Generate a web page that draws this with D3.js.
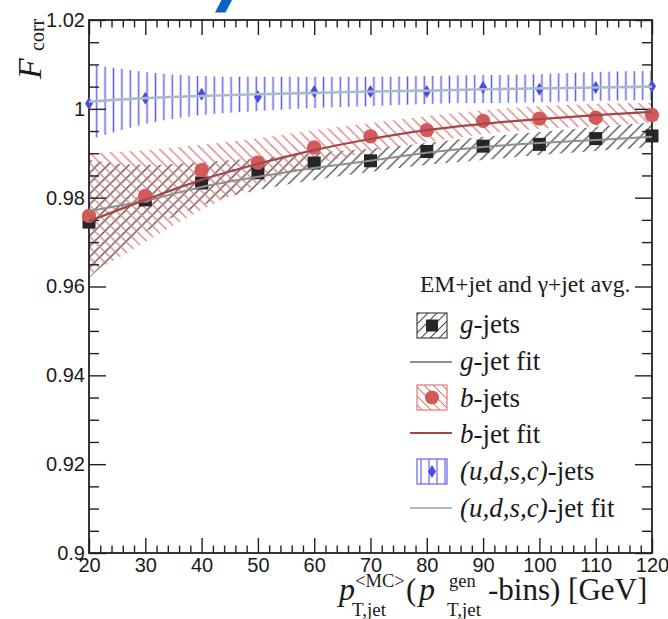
<!DOCTYPE html>
<html><head><meta charset="utf-8">
<script src="https://cdn.jsdelivr.net/npm/d3@7"></script>
<style>body{margin:0;background:#fff} svg{display:block}</style>
</head><body>
<svg id="chart" width="668" height="619"></svg>
<script>
// ---------------- data ----------------
const ptBins = [20,30,40,50,60,70,80,90,100,110,120];
const gJets   = [0.9745,0.9795,0.9833,0.9856,0.9878,0.9883,0.9904,0.9916,0.9920,0.9933,0.9939];
const gFit    = [0.9770,0.9793,0.9824,0.9847,0.9867,0.9883,0.9901,0.9914,0.9923,0.9930,0.9937];
const gUpper  = [0.9885,0.9874,0.9880,0.9889,0.9901,0.9910,0.9923,0.9937,0.9948,0.9959,0.9970];
const gLower  = [0.9619,0.9723,0.9783,0.9817,0.9840,0.9858,0.9874,0.9885,0.9896,0.9905,0.9914];
const bJets   = [0.9759,0.9804,0.9862,0.9879,0.9913,0.9938,0.9952,0.9973,0.9978,0.9980,0.9986];
const bFit    = [0.9747,0.9795,0.9840,0.9876,0.9907,0.9932,0.9952,0.9966,0.9977,0.9986,0.9993];
const bUpper  = [0.9901,0.9907,0.9919,0.9934,0.9952,0.9968,0.9984,0.9997,1.0006,1.0011,1.0013];
const bLower  = [0.9626,0.9700,0.9772,0.9829,0.9874,0.9903,0.9925,0.9943,0.9955,0.9961,0.9968];
const qJets   = [1.0012,1.0024,1.0033,1.0027,1.0039,1.0039,1.0039,1.0048,1.0044,1.0048,1.0051];
const qFit    = [1.0016,1.0024,1.0029,1.0033,1.0036,1.0039,1.0041,1.0044,1.0046,1.0048,1.0050];
const qUpper  = [1.0101,1.0083,1.0074,1.0072,1.0072,1.0072,1.0074,1.0076,1.0078,1.0083,1.0085];
const qLower  = [0.9930,0.9966,0.9986,0.9995,1.0002,1.0006,1.0011,1.0013,1.0015,1.0018,1.0020];

const xMajorTicks = [20,30,40,50,60,70,80,90,100,110,120];
const yMajorTicks = [0.9,0.92,0.94,0.96,0.98,1.0,1.02];
const yTickLabels = ["0.9","0.92","0.94","0.96","0.98","1","1.02"];
const legendHeader = "EM+jet and \u03b3+jet avg.";

// ---------------- layout ----------------
const svg = d3.select("#chart");
const L = 89, R = 652, T = 20, B = 553;
const x = d3.scaleLinear().domain([20,120]).range([L,R]);
const y = d3.scaleLinear().domain([0.9,1.02]).range([B,T]);
const SANS = "'Liberation Sans', Arial, Helvetica, sans-serif";
const SERIF = "'Liberation Serif', 'Times New Roman', serif";

const defs = svg.append("defs");
defs.append("clipPath").attr("id","plotclip").append("rect")
  .attr("x",L).attr("y",T).attr("width",R-L).attr("height",B-T);

function hatch(id, d, color, w, sw, sh, px){
  const p = defs.append("pattern").attr("id",id).attr("patternUnits","userSpaceOnUse")
    .attr("width",sw).attr("height",sh).attr("x",px||0).attr("y",0);
  p.append("path").attr("d",d).attr("stroke",color).attr("stroke-width",w).attr("fill","none");
}
const s = 10.5;
hatch("hatchG", `M0,${s} L${s},0 M${-s/2},${s/2} L${s/2},${-s/2} M${s/2},${s*1.5} L${s*1.5},${s/2}`, "#4a4a4a", 1.3, s, s);
hatch("hatchB", `M0,0 L${s},${s} M${-s/2},${s/2} L${s/2},${s*1.5} M${s/2},${-s/2} L${s*1.5},${s/2}`, "#e27878", 1.3, s, s);
hatch("hatchQ", `M4.2,-1 V11`, "#6262ee", 1.5, 8.4, 10, 92.5);
// legend patterns (finer)
const s2 = 9;
hatch("hatchGL", `M0,${s2} L${s2},0 M${-s2/2},${s2/2} L${s2/2},${-s2/2} M${s2/2},${s2*1.5} L${s2*1.5},${s2/2}`, "#4a4a4a", 1.1, s2, s2, 417);
hatch("hatchBL", `M0,0 L${s2},${s2} M${-s2/2},${s2/2} L${s2/2},${s2*1.5} M${s2/2},${-s2/2} L${s2*1.5},${s2/2}`, "#e27878", 1.1, s2, s2, 417);
hatch("hatchQL", `M4,-1 V11`, "#6262ee", 1.2, 8, 10, 417);

// blue fragment at the top
svg.append("path").attr("d","M215,12.5 L225.5,12.5 L232,0 L221.5,0 Z").attr("fill","#0b63c8");

const plot = svg.append("g").attr("clip-path","url(#plotclip)");

function band(lo, hi, fill){
  const area = d3.area().x((d,i)=>x(ptBins[i])).y0((d,i)=>y(lo[i])).y1((d,i)=>y(hi[i]))
    .curve(d3.curveMonotoneX);
  plot.append("path").attr("d", area(ptBins)).attr("fill", fill);
}
band(qLower, qUpper, "url(#hatchQ)");
band(gLower, gUpper, "url(#hatchG)");
band(bLower, bUpper, "url(#hatchB)");

// ---------------- axes ----------------
const xMinor = d3.range(20,121,2).filter(v=>v%10!==0);
const yMinor = d3.range(0,25).map(i=>+(0.9+i*0.005).toFixed(3)).filter(v=>!yMajorTicks.some(m=>Math.abs(m-v)<1e-9));

function styleAxis(g){
  g.select(".domain").remove();
  g.selectAll("line").attr("stroke","#222").attr("stroke-width",1.4);
  g.selectAll("text").attr("font-family",SANS).attr("font-size",20).attr("fill","#1a1a1a");
}
svg.append("g").attr("transform",`translate(0,${B})`)
  .call(d3.axisBottom(x).tickValues(xMajorTicks).tickSize(-15).tickPadding(5).tickFormat(d3.format("d"))).call(styleAxis);
svg.append("g").attr("transform",`translate(0,${B})`)
  .call(d3.axisBottom(x).tickValues(xMinor).tickSize(-7.5).tickFormat("")).call(styleAxis);
svg.append("g").attr("transform",`translate(0,${T})`)
  .call(d3.axisTop(x).tickValues(xMajorTicks).tickSize(-15).tickFormat("")).call(styleAxis);
svg.append("g").attr("transform",`translate(0,${T})`)
  .call(d3.axisTop(x).tickValues(xMinor).tickSize(-7.5).tickFormat("")).call(styleAxis);
svg.append("g").attr("transform",`translate(${L},0)`)
  .call(d3.axisLeft(y).tickValues(yMajorTicks).tickSize(-17).tickPadding(4)
    .tickFormat((d,i)=>yTickLabels[i])).call(styleAxis);
svg.append("g").attr("transform",`translate(${L},0)`)
  .call(d3.axisLeft(y).tickValues(yMinor).tickSize(-10).tickFormat("")).call(styleAxis);
svg.append("g").attr("transform",`translate(${R},0)`)
  .call(d3.axisRight(y).tickValues(yMajorTicks).tickSize(-17).tickFormat("")).call(styleAxis);
svg.append("g").attr("transform",`translate(${R},0)`)
  .call(d3.axisRight(y).tickValues(yMinor).tickSize(-10).tickFormat("")).call(styleAxis);

svg.append("rect").attr("x",L).attr("y",T).attr("width",R-L).attr("height",B-T)
  .attr("fill","none").attr("stroke","#222").attr("stroke-width",1.8);

// ---------------- markers & fits (not clipped, drawn over the frame) ----------------
const marks = svg.append("g");
marks.selectAll(".sq").data(gJets).enter().append("rect")
  .attr("x",(d,i)=>x(ptBins[i])-6.5).attr("y",d=>y(d)-6.5)
  .attr("width",13).attr("height",13).attr("fill","#262626");
marks.selectAll(".ci").data(bJets).enter().append("circle")
  .attr("cx",(d,i)=>x(ptBins[i])).attr("cy",d=>y(d)).attr("r",7.2).attr("fill","#d25a5a");
const diamond = (cx,cy)=>`M${cx},${cy-6.5} L${cx+4},${cy} L${cx},${cy+6.5} L${cx-4},${cy} Z`;
marks.selectAll(".di").data(qJets).enter().append("path")
  .attr("d",(d,i)=>diamond(x(ptBins[i]), y(d))).attr("fill","#4b4be0");

function fit(vals, color, w){
  const line = d3.line().x((d,i)=>x(ptBins[i])).y(d=>y(d)).curve(d3.curveMonotoneX);
  marks.append("path").attr("d", line(vals)).attr("fill","none").attr("stroke",color).attr("stroke-width",w);
}
fit(gFit, "#8e8e8e", 2);
fit(bFit, "#a34848", 2.2);
fit(qFit, "#a9bcc6", 2.6);

// ---------------- axis titles ----------------
const xt = svg.append("g").attr("font-family",SERIF).attr("fill","#1a1a1a");
xt.append("text").attr("x",339).attr("y",600).attr("font-size",32).attr("font-style","italic").text("p");
xt.append("text").attr("x",355).attr("y",587).attr("font-size",18.5).text("<MC>");
xt.append("text").attr("x",352).attr("y",616).attr("font-size",19).text("T,jet");
xt.append("text").attr("x",406).attr("y",600).attr("font-size",31).text("(");
xt.append("text").attr("x",419).attr("y",600).attr("font-size",32).attr("font-style","italic").text("p");
xt.append("text").attr("x",449).attr("y",587).attr("font-size",18.5).text("gen");
xt.append("text").attr("x",447).attr("y",616).attr("font-size",19).text("T,jet");
xt.append("text").attr("x",488).attr("y",600).attr("font-size",31).text("-bins) [GeV]");

const yt = svg.append("g").attr("font-family",SERIF).attr("fill","#1a1a1a");
yt.append("text").attr("transform","translate(41,79) rotate(-90)").attr("font-size",34).attr("font-style","italic").text("F");
yt.append("text").attr("transform","translate(44,51) rotate(-90)").attr("font-size",20).text("corr");

// ---------------- legend ----------------
const lg = svg.append("g").attr("font-family",SERIF).attr("fill","#1a1a1a");
lg.append("text").attr("x",420).attr("y",292).attr("font-size",23.5).text(legendHeader);

function legText(yb, parts){
  const t = lg.append("text").attr("x",460).attr("y",yb).attr("font-size",27);
  parts.forEach(p=>t.append("tspan").attr("font-style",p[1]?"italic":"normal").text(p[0]));
}
// g-jets
lg.append("rect").attr("x",417).attr("y",313).attr("width",30).attr("height",25)
  .attr("fill","url(#hatchGL)").attr("stroke","#444").attr("stroke-width",1.2);
lg.append("rect").attr("x",426).attr("y",319.5).attr("width",12).attr("height",12).attr("fill","#262626");
legText(333, [["g",1],["-jets",0]]);
lg.append("line").attr("x1",410).attr("x2",452).attr("y1",362).attr("y2",362).attr("stroke","#8e8e8e").attr("stroke-width",2);
legText(370, [["g",1],["-jet fit",0]]);
// b-jets
lg.append("rect").attr("x",417).attr("y",385).attr("width",30).attr("height",25)
  .attr("fill","url(#hatchBL)").attr("stroke","#e27878").attr("stroke-width",1.2);
lg.append("circle").attr("cx",432).attr("cy",397.5).attr("r",7).attr("fill","#d25a5a");
legText(407, [["b",1],["-jets",0]]);
lg.append("line").attr("x1",410).attr("x2",452).attr("y1",433).attr("y2",433).attr("stroke","#a34848").attr("stroke-width",2);
legText(443, [["b",1],["-jet fit",0]]);
// (u,d,s,c)-jets
lg.append("rect").attr("x",417).attr("y",459).attr("width",30).attr("height",25)
  .attr("fill","url(#hatchQL)").attr("stroke","#6262ee").attr("stroke-width",1.2);
lg.append("path").attr("d",diamond(432,471.5)).attr("fill","#4b4be0");
legText(480, [["(u,d,s,c)",1],["-jets",0]]);
lg.append("line").attr("x1",410).attr("x2",452).attr("y1",508).attr("y2",508).attr("stroke","#a9bcc6").attr("stroke-width",2);
legText(517, [["(u,d,s,c)",1],["-jet fit",0]]);
</script>
</body></html>
